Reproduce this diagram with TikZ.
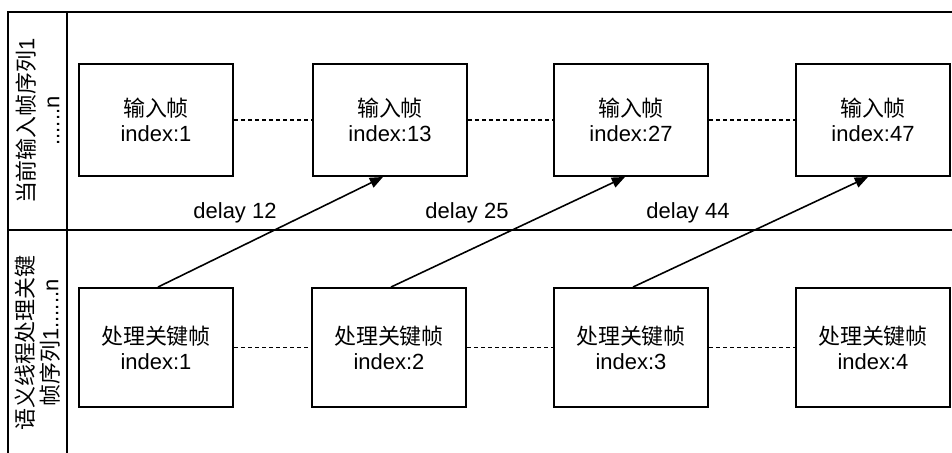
\documentclass[tikz,border=0pt]{standalone}
\usepackage{fontspec}
\setmainfont{Liberation Sans}
\newfontfamily\cjk{Noto Sans CJK SC}
\usetikzlibrary{arrows.meta,positioning}
\tikzset{
	frame/.style={draw,rectangle,align=center,line width=1.1pt,minimum width=3.08cm,minimum height=2.24cm,inner sep=0pt},
	keyframe/.style={frame,minimum height=2.38cm},
	lane/.style={align=center,rotate=90},
	dots/.style={line width=1pt,dash pattern=on 2.2pt off 1.8pt},
	delay/.style={-{Triangle[length=7.5pt,width=6pt]},line width=0.9pt},
	every node/.style={font=\fontsize{12.5}{14.2}\selectfont}
}

\begin{document}
\begin{tikzpicture}
	\useasboundingbox (0,0) rectangle (19.04,-9.06);
	% swimlanes
	\draw[line width=1.1pt] (19.04,-0.24) -- (0.16,-0.24) -- (0.16,-9.06);
	\draw[line width=1.1pt] (1.34,-0.24) -- (1.34,-9.06);
	\draw[line width=1.1pt] (0.16,-4.6) -- (19.04,-4.6);
	\node[lane] (inlane) at (0.75,-2.42) {{\cjk 当前输入帧序列}1\\......n};
	\node[lane] (kflane) at (0.75,-6.86) {{\cjk 语义线程处理关键}\\{\cjk 帧序列}1......n};

	% input frames
	\node[frame] (in1) at (3.12,-2.4) {{\cjk 输入帧}\\index:1};
	\node[frame] (in2) at (7.8,-2.4) {{\cjk 输入帧}\\index:13};
	\node[frame] (in3) at (12.62,-2.4) {{\cjk 输入帧}\\index:27};
	\node[frame] (in4) at (17.46,-2.4) {{\cjk 输入帧}\\index:47};

	% key frames
	\node[keyframe] (kf1) at (3.12,-6.95) {{\cjk 处理关键帧}\\index:1};
	\node[keyframe] (kf2) at (7.78,-6.95) {{\cjk 处理关键帧}\\index:2};
	\node[keyframe] (kf3) at (12.62,-6.95) {{\cjk 处理关键帧}\\index:3};
	\node[keyframe] (kf4) at (17.46,-6.95) {{\cjk 处理关键帧}\\index:4};

	\draw[dots] (in1) -- (in2) -- (in3) -- (in4);
	\draw[dots] (kf1) -- (kf2) -- (kf3) -- (kf4);

	\draw[delay] ([xshift=0.04cm]kf1.north) -- ([xshift=-0.14cm]in2.south);
	\draw[delay] ([xshift=0.04cm]kf2.north) -- ([xshift=-0.12cm]in3.south);
	\draw[delay] ([xshift=0.04cm]kf3.north) -- ([xshift=-0.1cm]in4.south);

	\node (d12) at (4.7,-4.26) {delay 12};
	\node (d25) at (9.34,-4.26) {delay 25};
	\node (d44) at (13.76,-4.26) {delay 44};
\end{tikzpicture}
\end{document}
